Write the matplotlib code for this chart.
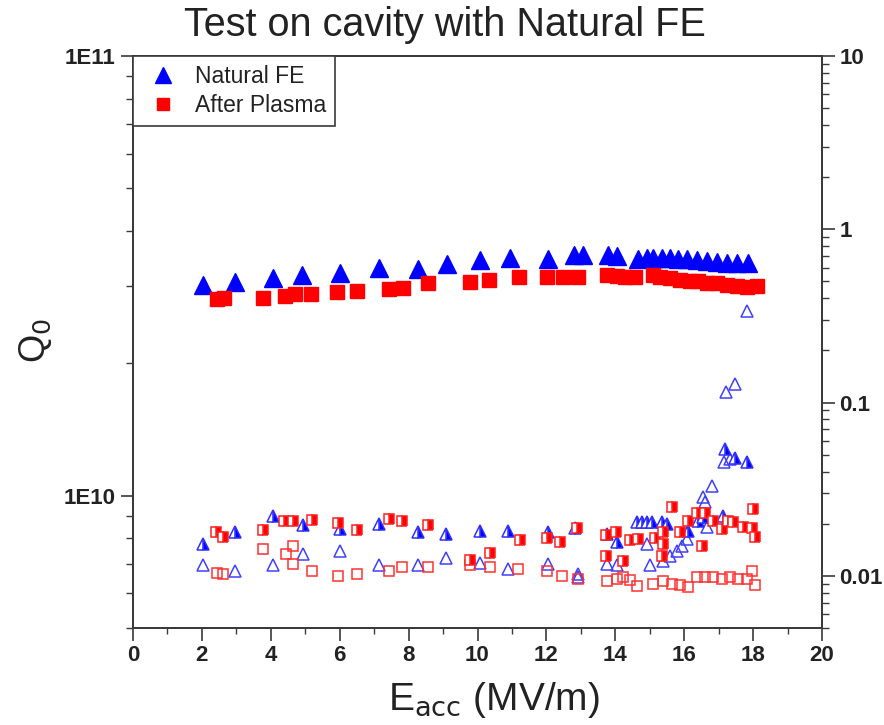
import matplotlib
matplotlib.use("Agg")
import matplotlib.pyplot as plt
import numpy as np
from matplotlib.ticker import LogLocator, FixedLocator, NullFormatter, FuncFormatter, MultipleLocator

plt.rcParams['font.family'] = ['Liberation Sans', 'DejaVu Sans']

# Q0 vs Eacc, left axis
nat_e = [2.03, 2.96, 4.06, 4.90, 6.00, 7.14, 8.27, 9.11, 10.07, 10.94, 12.05, 12.80, 13.06, 13.79,
         14.05, 14.66, 14.92, 15.10, 15.36, 15.59, 15.82, 16.08, 16.37, 16.66, 16.95, 17.24, 17.53, 17.85]
nat_q = [3.01, 3.06, 3.12, 3.17, 3.21, 3.29, 3.27, 3.36, 3.43, 3.47, 3.45, 3.52, 3.52, 3.52,
         3.50, 3.45, 3.47, 3.48, 3.48, 3.48, 3.46, 3.45, 3.43, 3.42, 3.40, 3.39, 3.39, 3.38]
nat_q = [v * 1e10 for v in nat_q]

pl_e = [2.44, 2.64, 3.77, 4.41, 4.70, 5.17, 5.92, 6.50, 7.43, 7.84, 8.56, 9.78, 10.33, 11.20,
        12.02, 12.48, 12.92, 13.76, 14.05, 14.28, 14.57, 15.10, 15.30, 15.59, 15.88, 16.17,
        16.40, 16.66, 16.95, 17.24, 17.53, 17.82, 18.11]
pl_q = [2.80, 2.82, 2.82, 2.85, 2.88, 2.88, 2.91, 2.92, 2.95, 2.97, 3.04, 3.06, 3.09, 3.14,
        3.14, 3.14, 3.15, 3.17, 3.16, 3.14, 3.14, 3.17, 3.14, 3.12, 3.10, 3.08,
        3.07, 3.05, 3.04, 3.02, 3.00, 2.98, 3.00]
pl_q = [v * 1e10 for v in pl_q]

# radiation, right axis
nat_rad1_e = [2.03, 2.96, 4.06, 4.93, 6.01, 7.14, 8.27, 9.09, 10.07, 10.89, 12.05, 12.83, 13.76, 14.05,
              14.63, 14.78, 14.92, 15.07, 15.36, 15.50, 16.11, 16.40, 16.55, 17.13, 17.18, 17.47, 17.82]
nat_rad1 = [0.0153, 0.0180, 0.0222, 0.0197, 0.0187, 0.0200, 0.0180, 0.0175, 0.0182, 0.0182, 0.0180, 0.0190,
            0.0175, 0.0157, 0.0205, 0.0205, 0.0205, 0.0205, 0.0205, 0.0200, 0.0182, 0.0208, 0.0219,
            0.0222, 0.0542, 0.0481, 0.0456]

nat_rad2_e = [2.03, 2.96, 4.06, 4.93, 6.01, 7.14, 8.27, 9.09, 10.07, 10.89, 12.05, 12.92, 12.92, 13.76,
              14.05, 14.92, 15.01, 15.38, 15.59, 15.79, 15.94, 16.08, 16.55, 16.60, 16.66, 16.81,
              17.16, 17.33, 17.21, 17.47, 17.82]
nat_rad2 = [0.0115, 0.0107, 0.0116, 0.0134, 0.0140, 0.0115, 0.0116, 0.0126, 0.0119, 0.0110, 0.0117, 0.0103,
            0.0098, 0.0117, 0.0116, 0.0153, 0.0115, 0.0122, 0.0131, 0.0140, 0.0149, 0.0164, 0.0286,
            0.0268, 0.0192, 0.0331, 0.0456, 0.0475, 0.115, 0.128, 0.339]

pl_rad1_e = [2.41, 2.61, 3.77, 4.38, 4.64, 5.20, 5.95, 6.50, 7.43, 7.81, 8.56, 9.78, 10.36, 11.23,
             12.02, 12.39, 12.89, 13.73, 14.02, 13.73, 14.22, 14.43, 14.66, 15.15, 15.38, 15.38,
             15.35, 15.88, 15.65, 16.11, 16.37, 16.60, 16.84, 17.10, 17.27, 17.42, 17.71, 17.97,
             18.06, 16.52, 18.00]
pl_rad1 = [0.0180, 0.0168, 0.0185, 0.0208, 0.0208, 0.0211, 0.0203, 0.0185, 0.0214, 0.0208, 0.0197,
           0.0124, 0.0136, 0.0160, 0.0166, 0.0157, 0.0190, 0.0173, 0.0180, 0.0131, 0.0122, 0.0162,
           0.0164, 0.0166, 0.0180, 0.0153, 0.0131, 0.0180, 0.0251, 0.0208, 0.0229, 0.0229, 0.0208,
           0.0187, 0.0208, 0.0205, 0.0192, 0.0190, 0.0168, 0.0149, 0.0244]

pl_rad2_e = [2.44, 2.61, 3.77, 4.44, 4.64, 4.64, 5.20, 5.95, 6.50, 7.43, 7.81, 8.56, 9.78, 10.36,
             11.18, 12.02, 12.45, 12.92, 13.76, 14.05, 14.22, 14.43, 14.63, 15.09, 15.38, 15.65,
             15.88, 16.11, 16.37, 16.60, 16.84, 17.10, 17.33, 17.56, 17.82, 17.97, 18.06]
pl_rad2 = [0.0104, 0.0103, 0.0142, 0.0133, 0.0149, 0.0117, 0.0106, 0.0100, 0.0103, 0.0106, 0.0112,
           0.0113, 0.0115, 0.0112, 0.0110, 0.0107, 0.0100, 0.0096, 0.0093, 0.0096, 0.0099, 0.0094,
           0.0087, 0.0090, 0.0093, 0.0090, 0.0088, 0.0086, 0.0099, 0.0098, 0.0098, 0.0096, 0.0099,
           0.0096, 0.0096, 0.0107, 0.0088]

blue = '#0000ff'
red = '#ff0000'
spine_c = '#3a3a3a'
label_c = '#222222'

fig = plt.figure(figsize=(8.84, 7.25), dpi=100)
ax = fig.add_axes([133/884, 1-628/725, (822-133)/884, (628-56)/725])
ax2 = ax.twinx()

h1, = ax.plot(nat_e, nat_q, ls='none', marker='^', ms=13, color=blue, mec=blue, label='Natural FE')
h2, = ax.plot(pl_e, pl_q, ls='none', marker='s', ms=9.5, color=red, mec=red, label='After Plasma')

ax2.plot(nat_rad2_e, nat_rad2, ls='none', marker='^', ms=8.5, mfc='none', mec='#4040ff', mew=1.1)
ax2.plot(nat_rad1_e, nat_rad1, ls='none', marker='^', ms=8.5, fillstyle='right', color=blue,
         mfcalt='white', mec='#3030ff', mew=1.1)
ax2.plot(pl_rad2_e, pl_rad2, ls='none', marker='s', ms=7, mfc='none', mec='#ff3030', mew=1.1)
ax2.plot(pl_rad1_e, pl_rad1, ls='none', marker='s', ms=7, fillstyle='right', color=red,
         mfcalt='white', mec='#ff2020', mew=1.1)

ax.set_xlim(0, 20)
ax.set_yscale('log')
ax.set_ylim(5e9, 1e11)
ax2.set_yscale('log')
ax2.set_ylim(0.005, 10)

ax.xaxis.set_major_locator(MultipleLocator(2))
ax.xaxis.set_minor_locator(MultipleLocator(1))
ax.yaxis.set_major_locator(FixedLocator([1e10, 1e11]))
ax.yaxis.set_minor_locator(LogLocator(base=10, subs=np.arange(2, 10)))
ax.yaxis.set_major_formatter(FuncFormatter(lambda v, p: '1E%d' % round(np.log10(v))))
ax.yaxis.set_minor_formatter(NullFormatter())

ax2.yaxis.set_major_locator(FixedLocator([0.01, 0.1, 1, 10]))
ax2.yaxis.set_minor_locator(LogLocator(base=10, subs=np.arange(2, 10)))
ax2.yaxis.set_major_formatter(FuncFormatter(lambda v, p: '%g' % v))
ax2.yaxis.set_minor_formatter(NullFormatter())

for a in (ax, ax2):
    for s in a.spines.values():
        s.set_color(spine_c)
        s.set_linewidth(1.3)
    a.tick_params(which='major', direction='out', length=9, width=1.2, color=spine_c,
                  labelsize=16, labelcolor=label_c)
    a.tick_params(which='minor', direction='out', length=5, width=1.0, color=spine_c)
    for t in a.get_xticklabels() + a.get_yticklabels():
        t.set_fontweight('bold')
ax.tick_params(axis='x', which='minor', length=4)

leg = ax2.legend(handles=[h1, h2], loc='upper left', bbox_to_anchor=(0, 1), borderaxespad=0,
                 fancybox=False, edgecolor=spine_c, fontsize=16.5, handletextpad=0.5,
                 borderpad=0.4, labelspacing=0.25, handlelength=1.8, markerscale=0.85,
                 framealpha=1)
leg.get_frame().set_linewidth(1.2)
for t in leg.get_texts():
    t.set_color(label_c)

fig.text(0.503, 0.965, 'Test on cavity with Natural FE', ha='center', va='center', fontsize=28.5,
         color=label_c)
fig.text(0.559, 0.034, r'E$_{\mathrm{acc}}$ (MV/m)', ha='center', va='center', fontsize=28,
         color=label_c)
fig.text(0.04, 0.53, r'Q$_0$', ha='center', va='center', rotation=90, fontsize=26, color=label_c)

fig.savefig('out.png', dpi=100)
